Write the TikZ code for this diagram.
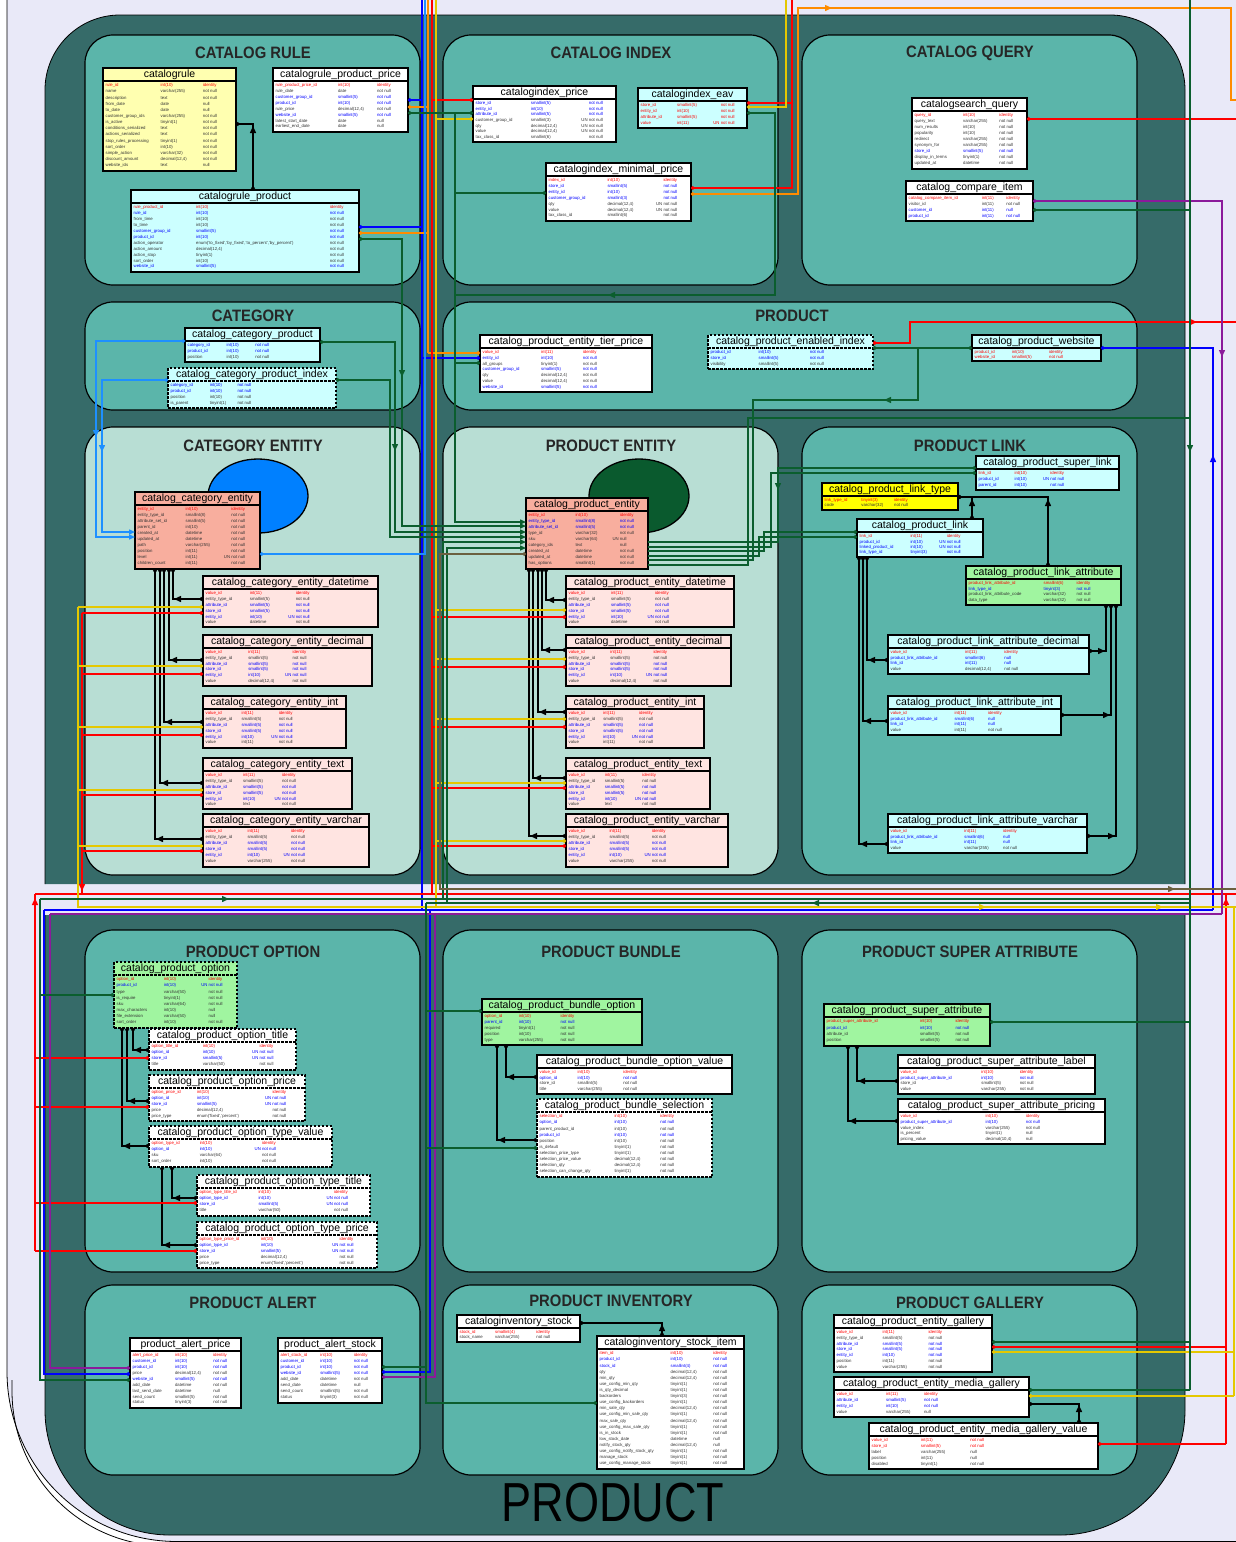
\documentclass[tikz,border=0pt]{standalone}
\usepackage{fontspec}
\setmainfont{Liberation Sans}
\usepackage{graphicx}
\usetikzlibrary{arrows.meta,decorations.markings}
\definecolor{lav}{HTML}{E9E9F8}
\definecolor{darkc}{HTML}{366B69}
\definecolor{midc}{HTML}{5BB5AA}
\definecolor{litec}{HTML}{B8DED4}
\definecolor{tyel}{HTML}{FFFFB0}
\definecolor{tcyan}{HTML}{CCFFFF}
\definecolor{tsal}{HTML}{F8AE9E}
\definecolor{tpink}{HTML}{FFE4E1}
\definecolor{tgreen}{HTML}{A0F5A0}
\definecolor{tyellow}{HTML}{FFFF00}
\definecolor{cblue}{HTML}{0000FF}
\definecolor{cred}{HTML}{FF0000}
\definecolor{cyel}{HTML}{E5C800}
\definecolor{corg}{HTML}{FF8C00}
\definecolor{cgreen}{HTML}{0B5E2E}
\definecolor{cpur}{HTML}{8B1A9B}
\definecolor{clblue}{HTML}{1E90FF}
\definecolor{colive}{HTML}{6B6040}
\definecolor{cellblue}{HTML}{0080FF}
\definecolor{cellgreen}{HTML}{0A5A2E}
\definecolor{rowk}{HTML}{333333}
\catcode`\_=12
\newdimen\tbw
\newdimen\ttlw
\newsavebox\ttlbox
\def\colA{0.42}\def\colB{0.33}
\newcommand\cols[2]{\def\colA{#1}\def\colB{#2}}
\newcommand\rowfont{\fontsize{4.3}{4.3}\selectfont}
\newcommand\ttlfont{\fontsize{10.5}{10.5}\selectfont}
\newcommand\rowx[4]{\hbox to \tbw{\color{#1}\makebox[\colA\tbw][l]{#2}\makebox[\colB\tbw][l]{#3}#4\hss}\vfill}
\newcommand\rP[3]{\rowx{cred}{#1}{#2}{#3}}
\newcommand\rF[3]{\rowx{cblue}{#1}{#2}{#3}}
\newcommand\rN[3]{\rowx{rowk}{#1}{#2}{#3}}
\newcommand\fitw[2]{\sbox\ttlbox{\ttlfont #2}\ttlw=\dimexpr#1pt-5pt\relax\ifdim\wd\ttlbox>\ttlw\resizebox{\ttlw}{!}{\usebox\ttlbox}\else\usebox\ttlbox\fi}
\newcommand\tbl[9][]{%
 \node[tbox,fill=#7,minimum width=#5pt,minimum height=#6pt,#1] (#2) at (#3,#4) {};
 \draw[line width=1.3pt,#1] ([yshift=-13pt]#2.north west) -- ([yshift=-13pt]#2.north east);
 \node[inner sep=0pt] at ([yshift=-7pt]#2.north) {\fitw{#5}{#8}};
 \node[anchor=north west,inner sep=0pt] at ([xshift=2.5pt,yshift=-15.5pt]#2.north west) {\rowfont\tbw=\dimexpr#5pt-5pt\relax\vbox to \dimexpr#6pt-17pt\relax{\offinterlineskip #9}};
}
\newcommand\ctitle[1]{\scalebox{0.9}[1]{\bfseries #1}}
\newcommand\attrrows[1]{\cols{0.26}{0.27}\rP{value_id}{int(11)}{identity}\rN{entity_type_id}{smallint(5)}{not null}\rF{attribute_id}{smallint(5)}{not null}\rF{store_id}{smallint(5)}{not null}\rF{entity_id}{int(10)\hfill UN\ }{not null}\rN{value}{#1}{not null}}
\newcommand\linkrows[1]{\cols{0.38}{0.2}\rP{value_id}{int(11)}{identity}\rF{product_link_attribute_id}{smallint(6)}{null}\rF{link_id}{int(11)}{null}\rN{value}{#1}{not null}}
\begin{document}
\begin{tikzpicture}[x=1pt,y=-1pt,
 tbox/.style={draw=black,line width=1.3pt,anchor=north west,inner sep=0pt,outer sep=0pt,rectangle},
 clu/.style={draw=black,line width=1.2pt,fill=midc,rounded corners=28pt},
 cluL/.style={clu,fill=litec},
 ctl/.style={font=\fontsize{16.5}{16.5}\selectfont,text=black!85,inner sep=0pt},
 dsh/.style={dash pattern=on 2.5pt off 1.5pt},
 cn/.style={line width=1.4pt},
 bk/.style={cn,color=black},
 rd/.style={cn,color=cred},
 ye/.style={cn,color=cyel},
 bl/.style={cn,color=cblue},
 og/.style={cn,color=corg},
 gn/.style={cn,color=cgreen},
 pu/.style={cn,color=cpur},
 lb/.style={cn,color=clblue},
 ol/.style={cn,color=colive},
 oc/.style={{Circle[open,length=3.5pt,width=3.5pt]}-},
 ocb/.style={{Circle[open,length=3.5pt,width=3.5pt]}-{Circle[open,length=3.5pt,width=3.5pt]}},
 ocT/.style={{Circle[open,length=3.5pt,width=3.5pt]}-{Triangle[length=6pt,width=5pt]}},
 tT/.style={-{Triangle[length=6pt,width=5pt]}},
 tri/.style={postaction={decorate,decoration={markings,mark=at position #1 with {\arrow{Triangle[length=7pt,width=6pt]}}}}},
 trr/.style={postaction={decorate,decoration={markings,mark=at position #1 with {\arrowreversed{Triangle[length=7pt,width=6pt]}}}}}
]
\useasboundingbox (0,0) rectangle (1236,1542);
\fill[white] (0,0) rectangle (1236,1542);
\fill[lav,rounded corners=170pt] (7,-300) -- (7,1541.5) -- (1400,1541.5) -- (1400,-300) -- cycle;
\draw[black,line width=0.8pt,rounded corners=170pt] (7,-300) -- (7,1541.5) -- (1400,1541.5);
\draw[black,line width=0.8pt,rounded corners=155pt] (12,1380) -- (12,1546) -- (1400,1546);
% dark PRODUCT cluster
\draw[fill=darkc,line width=0.8pt,rounded corners=75pt] (45,884) -- (45,15) -- (1185,15) -- (1185,884);
\draw[fill=darkc,line width=0.8pt,rounded corners=125pt] (45,915) -- (45,1535) -- (1185,1535) -- (1185,915);
\node[inner sep=0pt,font=\fontsize{55}{55}\selectfont] at (613,1503) {\scalebox{0.82}[1]{PRODUCT}};
% sub clusters
\draw[clu] (85,35) rectangle (420,285);
\draw[clu] (443,35) rectangle (778,285);
\draw[clu] (802,35) rectangle (1137,285);
\draw[clu] (85,302) rectangle (420,410);
\draw[clu] (443,302) rectangle (1137,410);
\draw[cluL] (85,427) rectangle (420,875);
\draw[cluL] (443,427) rectangle (778,875);
\draw[clu] (802,427) rectangle (1137,875);
\draw[clu] (85,930) rectangle (420,1272);
\draw[clu] (443,930) rectangle (778,1272);
\draw[clu] (802,930) rectangle (1137,1272);
\draw[clu] (85,1285) rectangle (420,1475);
\draw[clu] (443,1285) rectangle (778,1475);
\draw[clu] (802,1285) rectangle (1137,1475);
\node[ctl] at (253,53) {\ctitle{CATALOG RULE}};
\node[ctl] at (611,53) {\ctitle{CATALOG INDEX}};
\node[ctl] at (970,53) {\ctitle{CATALOG QUERY}};
\node[ctl] at (253,316) {\ctitle{CATEGORY}};
\node[ctl] at (792,316) {\ctitle{PRODUCT}};
\node[ctl] at (253,446) {\ctitle{CATEGORY ENTITY}};
\node[ctl] at (611,446) {\ctitle{PRODUCT ENTITY}};
\node[ctl] at (970,446) {\ctitle{PRODUCT LINK}};
\node[ctl] at (253,952) {\ctitle{PRODUCT OPTION}};
\node[ctl] at (611,952) {\ctitle{PRODUCT BUNDLE}};
\node[ctl] at (970,952) {\ctitle{PRODUCT SUPER ATTRIBUTE}};
\node[ctl] at (253,1303) {\ctitle{PRODUCT ALERT}};
\node[ctl] at (611,1301) {\ctitle{PRODUCT INVENTORY}};
\node[ctl] at (970,1303) {\ctitle{PRODUCT GALLERY}};
% ellipses
\draw[fill=cellblue,line width=1.3pt] (258,496) ellipse [x radius=50pt,y radius=37pt];
\draw[fill=cellgreen,line width=1.3pt] (639,496) ellipse [x radius=50pt,y radius=37pt];
% ---------------- tables ----------------
\tbl{cr}{103}{68}{133}{103}{tyel}{catalogrule}{\cols{0.43}{0.33}
\rP{rule_id}{int(10)}{identity}
\rN{name}{varchar(255)}{not null}
\rN{description}{text}{not null}
\rN{from_date}{date}{null}
\rN{to_date}{date}{null}
\rN{customer_group_ids}{varchar(255)}{not null}
\rN{is_active}{tinyint(1)}{not null}
\rN{conditions_serialized}{text}{not null}
\rN{actions_serialized}{text}{not null}
\rN{stop_rules_processing}{tinyint(1)}{not null}
\rN{sort_order}{int(10)}{not null}
\rN{simple_action}{varchar(32)}{not null}
\rN{discount_amount}{decimal(12,4)}{not null}
\rN{website_ids}{text}{null}}
\tbl{crpp}{273}{68}{135}{64}{white}{catalogrule_product_price}{\cols{0.48}{0.3}
\rP{rule_product_price_id}{int(10)}{identity}
\rN{rule_date}{date}{not null}
\rF{customer_group_id}{smallint(5)}{not null}
\rF{product_id}{int(10)}{not null}
\rN{rule_price}{decimal(12,4)}{not null}
\rF{website_id}{smallint(5)}{not null}
\rN{latest_start_date}{date}{null}
\rN{earliest_end_date}{date}{null}}
\tbl{crp}{131}{190}{228}{82}{tcyan}{catalogrule_product}{\cols{0.28}{0.6}
\rP{rule_product_id}{int(10)}{identity}
\rF{rule_id}{int(10)}{not null}
\rN{from_time}{int(10)}{not null}
\rN{to_time}{int(10)}{not null}
\rF{customer_group_id}{smallint(5)}{not null}
\rF{product_id}{int(10)}{not null}
\rN{action_operator}{enum('to_fixed','by_fixed','to_percent','by_percent')}{not null}
\rN{action_amount}{decimal(12,4)}{not null}
\rN{action_stop}{tinyint(1)}{not null}
\rN{sort_order}{int(10)}{not null}
\rF{website_id}{smallint(5)}{not null}}
\tbl{cip}{473}{86}{143}{56}{white}{catalogindex_price}{\cols{0.4}{0.42}
\rF{store_id}{smallint(5)}{not null}
\rF{entity_id}{int(10)}{not null}
\rF{attribute_id}{smallint(5)}{not null}
\rN{customer_group_id}{smallint(3)\hfill UN\ }{not null}
\rN{qty}{decimal(12,4)\hfill UN\ }{not null}
\rN{value}{decimal(12,4)\hfill UN\ }{not null}
\rN{tax_class_id}{smallint(6)}{not null}}
\tbl{cie}{638}{88}{109}{40}{tcyan}{catalogindex_eav}{\cols{0.35}{0.42}
\rP{store_id}{smallint(5)}{not null}
\rP{entity_id}{int(10)}{not null}
\rP{attribute_id}{smallint(5)}{not null}
\rP{value}{int(11)\hfill UN\ }{not null}}
\tbl{cimp}{546}{163}{145}{58}{white}{catalogindex_minimal_price}{\cols{0.42}{0.4}
\rP{index_id}{int(10)}{identity}
\rF{store_id}{smallint(5)}{not null}
\rF{entity_id}{int(10)}{not null}
\rF{customer_group_id}{smallint(3)}{not null}
\rN{qty}{decimal(12,4)\hfill UN\ }{not null}
\rN{value}{decimal(12,4)\hfill UN\ }{not null}
\rN{tax_class_id}{smallint(6)}{not null}}
\tbl{csq}{912}{98}{115}{71}{white}{catalogsearch_query}{\cols{0.44}{0.33}
\rP{query_id}{int(10)}{identity}
\rN{query_text}{varchar(255)}{not null}
\rN{num_results}{int(10)}{not null}
\rN{popularity}{int(10)}{not null}
\rN{redirect}{varchar(255)}{not null}
\rN{synonym_for}{varchar(255)}{not null}
\rF{store_id}{smallint(5)}{not null}
\rN{display_in_terms}{tinyint(1)}{not null}
\rN{updated_at}{datetime}{not null}}
\tbl{cci}{906}{181}{127}{40}{white}{catalog_compare_item}{\cols{0.6}{0.2}
\rP{catalog_compare_item_id}{int(11)}{identity}
\rN{visitor_id}{int(11)}{not null}
\rF{customer_id}{int(11)}{null}
\rF{product_id}{int(11)}{not null}}
\tbl{ccp}{185}{328}{135}{34}{tcyan}{catalog_category_product}{\cols{0.3}{0.22}
\rF{category_id}{int(10)}{not null}
\rF{product_id}{int(10)}{not null}
\rN{position}{int(10)}{not null}}
\tbl[dsh]{ccpi}{168}{368}{168}{40}{tcyan}{catalog_category_product_index}{\cols{0.24}{0.17}
\rF{category_id}{int(10)}{not null}
\rF{product_id}{int(10)}{not null}
\rN{position}{int(10)}{not null}
\rN{is_parent}{tinyint(1)}{not null}}
\tbl{cpetp}{480}{335}{172}{57}{white}{catalog_product_entity_tier_price}{\cols{0.35}{0.25}
\rP{value_id}{int(11)}{identity}
\rF{entity_id}{int(10)}{not null}
\rN{all_groups}{tinyint(1)}{not null}
\rF{customer_group_id}{smallint(5)}{not null}
\rN{qty}{decimal(12,4)}{not null}
\rN{value}{decimal(12,4)}{not null}
\rF{website_id}{smallint(5)}{not null}}
\tbl[dsh]{cpei}{708}{335}{165}{34}{tcyan}{catalog_product_enabled_index}{\cols{0.3}{0.32}
\rF{product_id}{int(10)}{not null}
\rF{store_id}{smallint(5)}{not null}
\rN{visibility}{smallint(5)}{not null}}
\tbl{cpw}{972}{335}{129}{26}{tcyan}{catalog_product_website}{\cols{0.3}{0.3}
\rP{product_id}{int(10)}{identity}
\rP{website_id}{smallint(5)}{not null}}
\tbl{cce}{135}{492}{125}{77}{tsal}{catalog_category_entity}{\cols{0.4}{0.38}
\rP{entity_id}{int(10)}{identity}
\rN{entity_type_id}{smallint(8)}{not null}
\rN{attribute_set_id}{smallint(5)}{not null}
\rN{parent_id}{int(10)}{not null}
\rN{created_at}{datetime}{not null}
\rN{updated_at}{datetime}{not null}
\rN{path}{varchar(255)}{not null}
\rN{position}{int(11)}{not null}
\rN{level}{int(11)\hfill UN\ }{not null}
\rN{children_count}{int(11)}{not null}}
\tbl{cced}{203}{576}{175}{51}{tpink}{catalog_category_entity_datetime}{\attrrows{datetime}}
\tbl{ccedec}{203}{635}{169}{51}{tpink}{catalog_category_entity_decimal}{\attrrows{decimal(12,4)}}
\tbl{ccei}{203}{696}{143}{52}{tpink}{catalog_category_entity_int}{\attrrows{int(11)}}
\tbl{ccet}{203}{758}{149}{51}{tpink}{catalog_category_entity_text}{\attrrows{text}}
\tbl{ccev}{203}{814}{166}{53}{tpink}{catalog_category_entity_varchar}{\attrrows{varchar(255)}}
\tbl{cpe}{526}{498}{122}{71}{tsal}{catalog_product_entity}{\cols{0.4}{0.38}
\rP{entity_id}{int(10)}{identity}
\rF{entity_type_id}{smallint(8)}{not null}
\rF{attribute_set_id}{smallint(5)}{not null}
\rN{type_id}{varchar(32)}{not null}
\rN{sku}{varchar(64)\hfill UN\ }{null}
\rN{category_ids}{text}{null}
\rN{created_at}{datetime}{not null}
\rN{updated_at}{datetime}{not null}
\rN{has_options}{smallint(1)}{not null}}
\tbl{cped}{566}{576}{168}{51}{tpink}{catalog_product_entity_datetime}{\attrrows{datetime}}
\tbl{cpedec}{566}{635}{165}{51}{tpink}{catalog_product_entity_decimal}{\attrrows{decimal(12,4)}}
\tbl{cpeint}{566}{696}{138}{52}{tpink}{catalog_product_entity_int}{\attrrows{int(11)}}
\tbl{cpet}{566}{758}{144}{51}{tpink}{catalog_product_entity_text}{\attrrows{text}}
\tbl{cpev}{566}{814}{162}{53}{tpink}{catalog_product_entity_varchar}{\attrrows{varchar(255)}}
\tbl{cpsl}{976}{456}{143}{34}{tcyan}{catalog_product_super_link}{\cols{0.26}{0.26}
\rP{link_id}{int(10)}{identity}
\rF{product_id}{int(10)\hfill UN\ }{not null}
\rF{parent_id}{int(10)}{not null}}
\tbl{cplt}{822}{483}{136}{27}{tyellow}{catalog_product_link_type}{\cols{0.28}{0.25}
\rP{link_type_id}{tinyint(3)}{identity}
\rN{code}{varchar(32)}{not null}}
\tbl{cpl}{857}{519}{126}{38}{tcyan}{catalog_product_link}{\cols{0.42}{0.3}
\rP{link_id}{int(11)}{identity}
\rF{product_id}{int(10)\hfill UN\ }{not null}
\rF{linked_product_id}{int(10)\hfill UN\ }{not null}
\rF{link_type_id}{tinyint(3)}{not null}}
\tbl{cpla}{966}{566}{155}{39}{tgreen}{catalog_product_link_attribute}{\cols{0.5}{0.22}
\rP{product_link_attribute_id}{smallint(6)}{identity}
\rF{link_type_id}{tinyint(3)}{not null}
\rN{product_link_attribute_code}{varchar(32)}{not null}
\rN{data_type}{varchar(32)}{not null}}
\tbl{cplad}{888}{635}{201}{39}{tcyan}{catalog_product_link_attribute_decimal}{\linkrows{decimal(12,4)}}
\tbl{cplai}{888}{696}{173}{39}{tcyan}{catalog_product_link_attribute_int}{\linkrows{int(11)}}
\tbl{cplav}{888}{814}{199}{39}{tcyan}{catalog_product_link_attribute_varchar}{\linkrows{varchar(255)}}
\tbl[dsh]{cpo}{114}{962}{123}{66}{tgreen}{catalog_product_option}{\cols{0.4}{0.38}
\rP{option_id}{int(10)}{identity}
\rF{product_id}{int(10)\hfill UN\ }{not null}
\rN{type}{varchar(50)}{not null}
\rN{is_require}{tinyint(1)}{not null}
\rN{sku}{varchar(64)}{not null}
\rN{max_characters}{int(10)}{null}
\rN{file_extension}{varchar(50)}{null}
\rN{sort_order}{int(10)}{not null}}
\tbl[dsh]{cpot}{149}{1029}{147}{41}{white}{catalog_product_option_title}{\cols{0.36}{0.4}
\rP{option_title_id}{int(10)}{identity}
\rF{option_id}{int(10)\hfill UN\ }{not null}
\rF{store_id}{smallint(5)\hfill UN\ }{not null}
\rN{title}{varchar(50)}{not null}}
\tbl[dsh]{cpop}{149}{1075}{156}{46}{white}{catalog_product_option_price}{\cols{0.3}{0.5}
\rP{option_price_id}{int(10)}{identity}
\rF{option_id}{int(10)\hfill UN\ }{not null}
\rF{store_id}{smallint(5)\hfill UN\ }{not null}
\rN{price}{decimal(12,4)}{not null}
\rN{price_type}{enum('fixed','percent')}{not null}}
\tbl[dsh]{cpotv}{149}{1126}{183}{41}{white}{catalog_product_option_type_value}{\cols{0.27}{0.35}
\rP{option_type_id}{int(10)}{identity}
\rF{option_id}{int(10)\hfill UN\ }{not null}
\rN{sku}{varchar(64)}{not null}
\rN{sort_order}{int(10)}{not null}}
\tbl[dsh]{cpott}{197}{1175}{173}{41}{white}{catalog_product_option_type_title}{\cols{0.35}{0.45}
\rP{option_type_title_id}{int(10)}{identity}
\rF{option_type_id}{int(10)\hfill UN\ }{not null}
\rF{store_id}{smallint(5)\hfill UN\ }{not null}
\rN{title}{varchar(50)}{not null}}
\tbl[dsh]{cpotp}{197}{1222}{180}{46}{white}{catalog_product_option_type_price}{\cols{0.35}{0.45}
\rP{option_type_price_id}{int(10)}{identity}
\rF{option_type_id}{int(10)\hfill UN\ }{not null}
\rF{store_id}{smallint(5)\hfill UN\ }{not null}
\rN{price}{decimal(12,4)}{not null}
\rN{price_type}{enum('fixed','percent')}{not null}}
\tbl{cpbo}{482}{999}{160}{46}{tgreen}{catalog_product_bundle_option}{\cols{0.22}{0.27}
\rP{option_id}{int(10)}{identity}
\rF{parent_id}{int(10)}{not null}
\rN{required}{tinyint(1)}{not null}
\rN{position}{int(10)}{not null}
\rN{type}{varchar(255)}{not null}}
\tbl{cpbov}{537}{1055}{195}{39}{white}{catalog_product_bundle_option_value}{\cols{0.2}{0.24}
\rP{value_id}{int(10)}{identity}
\rF{option_id}{int(10)}{not null}
\rN{store_id}{smallint(5)}{not null}
\rN{title}{varchar(255)}{not null}}
\tbl[dsh]{cpbs}{537}{1099}{175}{78}{white}{catalog_product_bundle_selection}{\cols{0.44}{0.27}
\rP{selection_id}{int(10)}{identity}
\rF{option_id}{int(10)}{not null}
\rN{parent_product_id}{int(10)}{not null}
\rF{product_id}{int(10)}{not null}
\rN{position}{int(10)}{not null}
\rN{is_default}{tinyint(1)}{not null}
\rN{selection_price_type}{tinyint(1)}{not null}
\rN{selection_price_value}{decimal(12,4)}{not null}
\rN{selection_qty}{decimal(12,4)}{not null}
\rN{selection_can_change_qty}{tinyint(1)}{not null}}
\tbl{cpsa}{824}{1004}{166}{42}{tgreen}{catalog_product_super_attribute}{\cols{0.58}{0.22}
\rP{product_super_attribute_id}{int(10)}{identity}
\rF{product_id}{int(10)}{not null}
\rN{attribute_id}{smallint(5)}{not null}
\rN{position}{smallint(5)}{not null}}
\tbl{cpsal}{898}{1055}{197}{39}{white}{catalog_product_super_attribute_label}{\cols{0.42}{0.2}
\rP{value_id}{int(10)}{identity}
\rF{product_super_attribute_id}{int(10)}{not null}
\rN{store_id}{smallint(5)}{not null}
\rN{value}{varchar(255)}{not null}}
\tbl{cpsap}{898}{1099}{207}{45}{white}{catalog_product_super_attribute_pricing}{\cols{0.42}{0.2}
\rP{value_id}{int(10)}{identity}
\rF{product_super_attribute_id}{int(10)}{not null}
\rN{value_index}{varchar(255)}{not null}
\rN{is_percent}{tinyint(1)}{null}
\rN{pricing_value}{decimal(10,4)}{null}}
\tbl{pap}{130}{1338}{111}{70}{white}{product_alert_price}{\cols{0.4}{0.36}
\rP{alert_price_id}{int(10)}{identity}
\rF{customer_id}{int(10)}{not null}
\rF{product_id}{int(10)}{not null}
\rN{price}{decimal(12,4)}{not null}
\rF{website_id}{smallint(5)}{not null}
\rN{add_date}{datetime}{not null}
\rN{last_send_date}{datetime}{null}
\rN{send_count}{smallint(5)}{not null}
\rN{status}{tinyint(3)}{not null}}
\tbl{pas}{278}{1338}{104}{65}{white}{product_alert_stock}{\cols{0.4}{0.34}
\rP{alert_stock_id}{int(10)}{identity}
\rF{customer_id}{int(10)}{not null}
\rF{product_id}{int(10)}{not null}
\rF{website_id}{smallint(5)}{not null}
\rN{add_date}{datetime}{not null}
\rN{send_date}{datetime}{null}
\rN{send_count}{smallint(5)}{not null}
\rN{status}{tinyint(3)}{not null}}
\tbl{cis}{457}{1315}{123}{27}{white}{cataloginventory_stock}{\cols{0.3}{0.35}
\rP{stock_id}{smallint(4)}{identity}
\rN{stock_name}{varchar(255)}{not null}}
\tbl{cisi}{597}{1336}{147}{133}{white}{cataloginventory_stock_item}{\cols{0.5}{0.3}
\rP{item_id}{int(10)}{identity}
\rF{product_id}{int(10)}{not null}
\rF{stock_id}{smallint(4)}{not null}
\rN{qty}{decimal(12,4)}{not null}
\rN{min_qty}{decimal(12,4)}{not null}
\rN{use_config_min_qty}{tinyint(1)}{not null}
\rN{is_qty_decimal}{tinyint(1)}{not null}
\rN{backorders}{tinyint(3)}{not null}
\rN{use_config_backorders}{tinyint(1)}{not null}
\rN{min_sale_qty}{decimal(12,4)}{not null}
\rN{use_config_min_sale_qty}{tinyint(1)}{not null}
\rN{max_sale_qty}{decimal(12,4)}{not null}
\rN{use_config_max_sale_qty}{tinyint(1)}{not null}
\rN{is_in_stock}{tinyint(1)}{not null}
\rN{low_stock_date}{datetime}{null}
\rN{notify_stock_qty}{decimal(12,4)}{null}
\rN{use_config_notify_stock_qty}{tinyint(1)}{not null}
\rN{manage_stock}{tinyint(1)}{not null}
\rN{use_config_manage_stock}{tinyint(1)}{not null}}
\tbl{cpeg}{834}{1315}{158}{57}{white}{catalog_product_entity_gallery}{\cols{0.3}{0.3}
\rP{value_id}{int(11)}{identity}
\rN{entity_type_id}{smallint(5)}{not null}
\rF{attribute_id}{smallint(5)}{not null}
\rF{store_id}{smallint(5)}{not null}
\rF{entity_id}{int(10)}{not null}
\rN{position}{int(11)}{not null}
\rN{value}{varchar(255)}{not null}}
\tbl{cpemg}{834}{1377}{195}{40}{white}{catalog_product_entity_media_gallery}{\cols{0.26}{0.2}
\rP{value_id}{int(11)}{identity}
\rF{attribute_id}{smallint(5)}{not null}
\rF{entity_id}{int(10)}{not null}
\rN{value}{varchar(255)}{null}}
\tbl{cpemgv}{869}{1423}{229}{46}{white}{catalog_product_entity_media_gallery_value}{\cols{0.22}{0.22}
\rP{value_id}{int(11)}{not null}
\rP{store_id}{smallint(5)}{not null}
\rN{label}{varchar(255)}{null}
\rN{position}{int(11)}{null}
\rN{disabled}{tinyint(1)}{not null}}
% ---------------- bus coordinates ----------------
\coordinate (vBl) at (422,0);
\coordinate (vLb) at (425,0);
\coordinate (vOr) at (428,0);
\coordinate (vRd) at (432,0);
\coordinate (vYe) at (436,0);
\coordinate (vOl) at (440,0);
\coordinate (vG4) at (443,0);
\coordinate (vG5) at (447,0);
\coordinate (vGa) at (455,0);
\coordinate (vG1) at (402,0);
\coordinate (vG2) at (395,0);
\coordinate (vG3) at (390,0);
\coordinate (vYL) at (78,0);
\coordinate (vRL) at (82,0);
\coordinate (vLB1) at (96,0);
\coordinate (vLB2) at (102,0);
\coordinate (vRLL) at (35,0);
\coordinate (vGLL) at (40,0);
\coordinate (vBLL) at (44,0);
\coordinate (vPLL) at (50,0);
\coordinate (vGM) at (426,0);
\coordinate (vBM) at (430,0);
\coordinate (vPM) at (435,0);
\coordinate (vYt) at (786,0);
\coordinate (vRt) at (792,0);
\coordinate (vOt) at (798,0);
\coordinate (vGt) at (775,0);
\coordinate (vQ1) at (778,0);
\coordinate (vQ2) at (771,0);
\coordinate (vQ3) at (764,0);
\coordinate (vQ4) at (759,0);
\coordinate (vQ5) at (753,0);
\coordinate (vQ6) at (748,0);
\coordinate (vGR) at (1190,0);
\coordinate (vBR) at (1213,0);
\coordinate (vPR) at (1222,0);
\coordinate (vRR) at (1226,0);
\coordinate (vOR2) at (1231,0);
\coordinate (vYR) at (1234,0);
\coordinate (eR) at (1236,0);
\coordinate (jW) at (918,400);
\coordinate (jR) at (910,322);
\coordinate (hG) at (0,295);
\coordinate (hQ6) at (0,418);
\coordinate (tOr) at (0,8);
\coordinate (oB) at (0,100);
\coordinate (bOl) at (0,889);
\coordinate (bRed) at (0,894);
\coordinate (bG1) at (0,899);
\coordinate (bG2) at (0,903);
\coordinate (bYe) at (0,907);
\coordinate (bBl) at (0,910);
\coordinate (bPu) at (0,914);
% ---------------- black in-cluster edges ----------------
\draw[bk,ocb,tri=64pt] ([xshift=122pt]crp.north west) |- ([yshift=-56pt]cr.north east);
\draw[bk,ocb,tri=29pt] ([yshift=-23pt]cced.north west) -| ([xshift=38pt]cce.south west);
\draw[bk,ocb,tri=33pt] ([yshift=-25pt]ccedec.north west) -| ([xshift=34pt]cce.south west);
\draw[bk,ocb,tri=38pt] ([yshift=-26pt]ccei.north west) -| ([xshift=29pt]cce.south west);
\draw[bk,ocb,tri=42pt] ([yshift=-25pt]ccet.north west) -| ([xshift=25pt]cce.south west);
\draw[bk,ocb,tri=47pt] ([yshift=-25pt]ccev.north west) -| ([xshift=20pt]cce.south west);
\draw[bk,ocb,tri=19pt] ([yshift=-24pt]cped.north west) -| ([xshift=20pt]cpe.south west);
\draw[bk,ocb,tri=23pt] ([yshift=-15pt]cpedec.north west) -| ([xshift=16pt]cpe.south west);
\draw[bk,ocb,tri=27pt] ([yshift=-16pt]cpeint.north west) -| ([xshift=12pt]cpe.south west);
\draw[bk,ocb,tri=32pt] ([yshift=-20pt]cpet.north west) -| ([xshift=7pt]cpe.south west);
\draw[bk,ocb,tri=36pt] ([yshift=-22pt]cpev.north west) -| ([xshift=3pt]cpe.south west);
\draw[bk,ocb,tri=20pt] ([yshift=-25pt]cplad.north west) -| ([xshift=10pt]cpl.south west);
\draw[bk,ocb,tri=24pt] ([yshift=-25pt]cplai.north west) -| ([xshift=6pt]cpl.south west);
\draw[bk,ocb,tri=28pt] ([yshift=-30pt]cplav.north west) -| ([xshift=2pt]cpl.south west);
\draw[bk,ocb,tri=16pt] ([yshift=-16pt]cplad.north east) -| ([xshift=-15pt]cpla.south east);
\draw[bk,ocb,tri=49pt] ([yshift=-19pt]cplai.north east) -| ([xshift=-10pt]cpla.south east);
\draw[bk,ocb,tri=28pt] ([yshift=-22pt]cplav.north east) -| ([xshift=-5pt]cpla.south east);
\draw[bk,ocb,tri=20pt] ([xshift=115pt]cpl.north west) |- ([yshift=-14pt]cplt.north east);
\draw[bk,ocb,tri=67pt] ([xshift=82pt]cpla.north west) |- ([yshift=-14pt]cplt.north east);
\draw[bk,ocb,tri=15pt] ([yshift=-21pt]cpot.north west) -| ([xshift=19pt]cpo.south west);
\draw[bk,ocb,tri=21pt] ([yshift=-26pt]cpop.north west) -| ([xshift=13pt]cpo.south west);
\draw[bk,ocb,tri=26pt] ([yshift=-20pt]cpotv.north west) -| ([xshift=8pt]cpo.south west);
\draw[bk,ocb,tri=24pt] ([yshift=-23pt]cpott.north west) -| ([xshift=23pt]cpotv.south west);
\draw[bk,ocb,tri=34pt] ([yshift=-23pt]cpotp.north west) -| ([xshift=13pt]cpotv.south west);
\draw[bk,ocb,tri=30pt] ([yshift=-22pt]cpbov.north west) -| ([xshift=24pt]cpbo.south west);
\draw[bk,ocb,tri=39pt] ([yshift=-41pt]cpbs.north west) -| ([xshift=15pt]cpbo.south west);
\draw[bk,ocb,tri=40pt] ([yshift=-26pt]cpsal.north west) -| ([xshift=33pt]cpsa.south west);
\draw[bk,ocb,tri=49pt] ([yshift=-22pt]cpsap.north west) -| ([xshift=24pt]cpsa.south west);
\draw[bk,ocb,tri=12pt] ([xshift=65pt]cisi.north west) |- ([yshift=-8pt]cis.north east);
\draw[bk,ocb,tri=18pt] ([xshift=210pt]cpemgv.north west) |- ([yshift=-27pt]cpemg.north east);
% ---------------- blue ----------------
\draw[bl] (vBl) -- (vBl |- bBl);
\draw[bl,oc] ([yshift=-32pt]crpp.north east) -- ([yshift=-32pt]crpp.north east -| vBl);
\draw[bl,oc] ([yshift=-37pt]crp.north east) -- ([yshift=-37pt]crp.north east -| vBl);
\draw[bl,oc] ([yshift=-23pt]cpetp.north west) -- ([yshift=-23pt]cpetp.north west -| vBl);
\draw[bl,line width=2.2pt] (vBLL |- bBl) -- (vBR |- bBl);
\draw[bl,oc] ([yshift=-36pt]pap.north west) -| (vBLL |- bBl);
\draw[bl,oc] ([yshift=-34pt]pas.north east) -| (vBM |- bBl);
\draw[bl,oc,trr=219pt] ([yshift=-13pt]cpw.north east) -| (vBR |- bBl);
% ---------------- orange ----------------
\draw[og] (vOr) -- ([yshift=-18pt]cpetp.north west -| vOr);
\draw[og,oc] ([yshift=-39pt]crpp.north east) -- ([yshift=-39pt]crpp.north east -| vOr);
\draw[og,oc] ([yshift=-43pt]crp.north east) -- ([yshift=-43pt]crp.north east -| vOr);
\draw[og,oc] ([yshift=-18pt]cpetp.north west) -- ([yshift=-18pt]cpetp.north west -| vOr);
\draw[og,oc,tri=327pt] ([yshift=-31pt]cimp.north east) -| (vOt |- tOr) -- (vOR2 |- tOr) -- (vOR2 |- oB) -- (eR |- oB);
% ---------------- red ----------------
\draw[rd] (vRd) -- (vRd |- bRed);
\draw[rd,oc] ([yshift=-14pt]cip.north west) -- ([yshift=-14pt]cip.north west -| vRd);
\draw[rd,oc] ([yshift=-15pt]cie.north east) -| (vRt);
\draw[rd,oc] ([yshift=-25pt]cimp.north east) -| (vRt);
\draw[rd,oc] ([yshift=-21pt]csq.north east) -- ([yshift=-21pt]csq.north east -| eR);
\draw[rd,oc,tri=345pt] ([yshift=-8pt]cpei.north east) -| (jR) -- (jR -| eR);
\draw[rd] (vRLL |- bRed) -- (eR |- bRed);
\draw[rd,tri=278pt] ([yshift=-37pt]cced.north west -| vRL) -- (vRL |- bRed);
\draw[rd,oc] ([yshift=-37pt]cced.north west) -- ([yshift=-37pt]cced.north west -| vRL);
\draw[rd,oc] ([yshift=-39pt]ccedec.north west) -- ([yshift=-39pt]ccedec.north west -| vRL);
\draw[rd,oc] ([yshift=-39pt]ccei.north west) -- ([yshift=-39pt]ccei.north west -| vRL);
\draw[rd,oc] ([yshift=-37pt]ccet.north west) -- ([yshift=-37pt]ccet.north west -| vRL);
\draw[rd,oc] ([yshift=-37pt]ccev.north west) -- ([yshift=-37pt]ccev.north west -| vRL);
\draw[rd,oc] ([yshift=-41pt]cped.north west) -- ([yshift=-41pt]cped.north west -| vRd);
\draw[rd,oc] ([yshift=-32pt]cpedec.north west) -- ([yshift=-32pt]cpedec.north west -| vRd);
\draw[rd,oc] ([yshift=-31pt]cpeint.north west) -- ([yshift=-31pt]cpeint.north west -| vRd);
\draw[rd,oc] ([yshift=-30pt]cpet.north west) -- ([yshift=-30pt]cpet.north west -| vRd);
\draw[rd,oc] ([yshift=-32pt]cpev.north west) -- ([yshift=-32pt]cpev.north west -| vRd);
\draw[rd,trr=4pt] (vRLL |- bRed) -- ([yshift=-29pt]cpotp.north west -| vRLL);
\draw[rd,oc] ([yshift=-29pt]cpot.north west) -- ([yshift=-29pt]cpot.north west -| vRLL);
\draw[rd,oc] ([yshift=-32pt]cpop.north west) -- ([yshift=-32pt]cpop.north west -| vRLL);
\draw[rd,oc] ([yshift=-28pt]cpott.north west) -- ([yshift=-28pt]cpott.north west -| vRLL);
\draw[rd,oc] ([yshift=-29pt]cpotp.north west) -- ([yshift=-29pt]cpotp.north west -| vRLL);
\draw[rd,trr=4pt] (vRR |- bRed) -- ([yshift=-21pt]cpemgv.north east -| vRR);
\draw[rd,oc] ([yshift=-32pt]cpeg.north east) -- ([yshift=-32pt]cpeg.north east -| vRR);
\draw[rd,oc] ([yshift=-21pt]cpemgv.north east) -- ([yshift=-21pt]cpemgv.north east -| vRR);
% ---------------- yellow ----------------
\draw[ye] (vYe) -- (vYe |- bYe);
\draw[ye,oc] ([yshift=-33pt]cip.north west) -- ([yshift=-33pt]cip.north west -| vYe);
\draw[ye,oc] ([yshift=-19pt]cie.north east) -| (vYt);
\draw[ye,oc] ([yshift=-34pt]cped.north west) -- ([yshift=-34pt]cped.north west -| vYe);
\draw[ye,oc] ([yshift=-24pt]cpedec.north west) -- ([yshift=-24pt]cpedec.north west -| vYe);
\draw[ye,oc] ([yshift=-23pt]cpeint.north west) -- ([yshift=-23pt]cpeint.north west -| vYe);
\draw[ye,oc] ([yshift=-25pt]cpet.north west) -- ([yshift=-25pt]cpet.north west -| vYe);
\draw[ye,oc] ([yshift=-27pt]cpev.north west) -- ([yshift=-27pt]cpev.north west -| vYe);
\draw[ye,oc] ([yshift=-31pt]cced.north west) -- ([yshift=-31pt]cced.north west -| vYL);
\draw[ye,oc] ([yshift=-31pt]ccedec.north west) -- ([yshift=-31pt]ccedec.north west -| vYL);
\draw[ye,oc] ([yshift=-31pt]ccei.north west) -- ([yshift=-31pt]ccei.north west -| vYL);
\draw[ye,oc] ([yshift=-32pt]ccet.north west) -- ([yshift=-32pt]ccet.north west -| vYL);
\draw[ye,oc] ([yshift=-32pt]ccev.north west) -- ([yshift=-32pt]ccev.north west -| vYL);
\draw[ye,tri=1208pt,tri=1385pt] ([yshift=-31pt]cced.north west -| vYL) -- (vYL |- bYe) -- (eR |- bYe);
\draw[ye] (vYR |- bYe) -- ([yshift=-19pt]cpemg.north east -| vYR);
\draw[ye,oc] ([yshift=-37pt]cpeg.north east) -- ([yshift=-37pt]cpeg.north east -| vYR);
\draw[ye,oc] ([yshift=-19pt]cpemg.north east) -- ([yshift=-19pt]cpemg.north east -| vYR);
% ---------------- purple ----------------
\draw[pu,oc,tri=345pt] ([yshift=-20pt]cci.north east) -| (vPR |- bPu);
\draw[pu] (vPLL |- bPu) -- (vPR |- bPu);
\draw[pu,oc] ([yshift=-30pt]pap.north west) -| (vPLL |- bPu);
\draw[pu,oc] ([yshift=-39pt]pas.north east) -| (vPM |- bPu);
% ---------------- light blue ----------------
\draw[lb,ocT,tri=185pt] ([yshift=-13pt]ccp.north west) -| ([yshift=-45pt]cce.north west -| vLB1) -- ([yshift=-45pt]cce.north west);
\draw[lb,ocT,tri=138pt] ([yshift=-12pt]ccpi.north west) -| ([yshift=-40pt]cce.north west -| vLB2) -- ([yshift=-40pt]cce.north west);
\draw[lb,oc] ([yshift=-62pt]cce.north east) -| (vLb);
% ---------------- green ----------------
\draw[gn,tT] ([yshift=-45pt]crpp.north east -| vGa) -- ([yshift=-24pt]cpe.north west -| vGa) -- ([yshift=-24pt]cpe.north west);
\draw[gn,oc] ([yshift=-45pt]crpp.north east) -- ([yshift=-45pt]crpp.north east -| vGa);
\draw[gn,oc] ([yshift=-27pt]cip.north west) -- ([yshift=-27pt]cip.north west -| vGa);
\draw[gn,oc] ([yshift=-30pt]cimp.north west) -- ([yshift=-30pt]cimp.north west -| vGa);
\draw[gn,oc] ([yshift=-28pt]cpetp.north west) -- ([yshift=-28pt]cpetp.north west -| vGa);
\draw[gn,oc,tri=377pt] ([yshift=-25pt]cie.north east) -| (vGt |- hG) -- (vGa |- hG);
\draw[gn,ocT,tri=181pt] ([yshift=-49pt]crp.north east) -| ([yshift=-28pt]cpe.north west -| vG1) -- ([yshift=-28pt]cpe.north west);
\draw[gn,ocT,tri=184pt] ([yshift=-14pt]ccp.north east) -| ([yshift=-34pt]cpe.north west -| vG2) -- ([yshift=-34pt]cpe.north west);
\draw[gn,ocT] ([yshift=-12pt]ccpi.north east) -| ([yshift=-39pt]cpe.north west -| vG3) -- ([yshift=-39pt]cpe.north west);
\draw[gn,tT] (vG4 |- bG1) -- ([yshift=-44pt]cpe.north west -| vG4) -- ([yshift=-44pt]cpe.north west);
\draw[gn,tT] (vG5 |- bG2) -- ([yshift=-50pt]cpe.north west -| vG5) -- ([yshift=-50pt]cpe.north west);
\draw[gn,oc,tri=220pt] ([yshift=-12pt]cpsl.north west) -| ([yshift=-44pt]cpe.north east -| vQ1) -- ([yshift=-44pt]cpe.north east);
\draw[gn,oc] ([yshift=-17pt]cpsl.north west) -| ([yshift=-49pt]cpe.north east -| vQ2) -- ([yshift=-49pt]cpe.north east);
\draw[gn,oc] ([yshift=-13pt]cpl.north west) -| ([yshift=-53pt]cpe.north east -| vQ3) -- ([yshift=-53pt]cpe.north east);
\draw[gn,oc] ([yshift=-18pt]cpl.north west) -| ([yshift=-58pt]cpe.north east -| vQ4) -- ([yshift=-58pt]cpe.north east);
\draw[gn,oc,tri=140pt] ([yshift=-13pt]cpw.north west) -| (jW) -| ([yshift=-62pt]cpe.north east -| vQ5) -- ([yshift=-62pt]cpe.north east);
\draw[gn,oc] ([yshift=-13pt]cpei.north east) -- ([yshift=-13pt]cpei.north east -| jW);
\draw[gn] ([yshift=-67pt]cpe.north east) -| (vQ6 |- hQ6) -- (vGR |- hQ6);
\draw[gn,tri=452pt] (vGR) -- ([yshift=-13pt]cpemg.north east -| vGR);
\draw[gn,oc] ([yshift=-29pt]cci.north east) -- ([yshift=-29pt]cci.north east -| vGR);
\draw[gn,oc] ([yshift=-18pt]cpsa.north east) -- ([yshift=-18pt]cpsa.north east -| vGR);
\draw[gn,oc] ([yshift=-27pt]cpeg.north east) -- ([yshift=-27pt]cpeg.north east -| vGR);
\draw[gn,oc] ([yshift=-13pt]cpemg.north east) -- ([yshift=-13pt]cpemg.north east -| vGR);
\draw[gn,tri=189pt] (vGLL |- bG1) -- (vGR |- bG1);
\draw[gn,trr=386pt] (vGM |- bG2) -- (vGR |- bG2);
\draw[gn,oc] ([yshift=-42pt]pap.north west) -| (vGLL |- bG1);
\draw[gn,oc] ([yshift=-33pt]cpo.north west) -- ([yshift=-33pt]cpo.north west -| vGLL);
\draw[gn,oc] ([yshift=-29pt]pas.north east) -| (vGM |- bG2);
\draw[gn,oc] ([yshift=-67pt]cisi.north west) -| (vGM |- bG2);
\draw[gn,oc] ([yshift=-12pt]cpbo.north west) -- ([yshift=-12pt]cpbo.north west -| vGM);
\draw[gn,oc] ([yshift=-49pt]cpbs.north west) -- ([yshift=-49pt]cpbs.north west -| vGM);
% ---------------- olive ----------------
\draw[ol,oc,tri=-61pt] ([yshift=-56pt]cpe.north west) -| (vOl |- bOl) -- (eR |- bOl);
\end{tikzpicture}
\end{document}
